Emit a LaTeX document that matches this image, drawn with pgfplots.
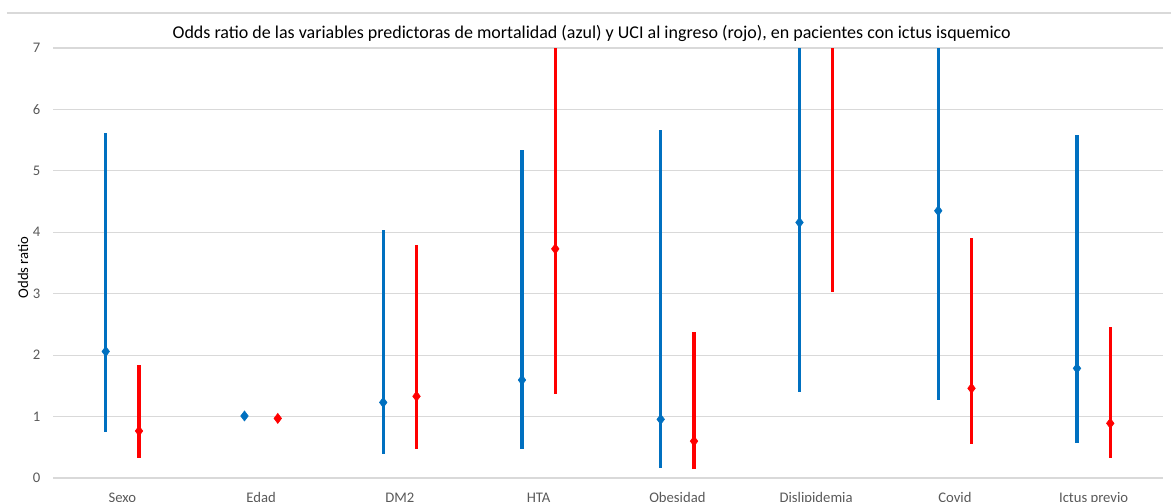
\documentclass[border=0pt]{standalone}
\usepackage{fontspec}
\setmainfont{Carlito}
\usepackage{pgfplots}
\pgfplotsset{compat=1.18}
\definecolor{myblue}{HTML}{0070C0}
\definecolor{myred}{HTML}{FF0000}
\definecolor{gridc}{HTML}{D9D9D9}
\definecolor{tickc}{HTML}{595959}
\begin{document}
\begin{tikzpicture}
\begin{axis}[
  at={(0pt,0pt)}, anchor=south west,
  scale only axis,
  width=832.5pt, height=322.5pt,
  xmin=-0.5, xmax=7.5, ymin=0, ymax=7,
  xtick={0,...,7},
  xticklabels={Sexo,Edad,DM2,HTA,Obesidad,Dislipidemia,Covid,Ictus previo},
  ytick={0,...,7},
  axis line style={draw=none},
  major tick length=0pt,
  ymajorgrids, grid style={gridc, line width=0.9pt},
  tick label style={font=\fontsize{11}{13}\selectfont, text=tickc},
  /pgf/number format/assume math mode=true,
  xticklabel style={yshift=-7.5pt},
  yticklabel style={xshift=-6pt},
  clip=true,
]
\addplot[only marks, mark=diamond*, mark size=3.8pt, color=myblue,
  error bars/.cd, y dir=both, y explicit, error bar style={line width=2.4pt, color=myblue}, error mark=none]
  coordinates {
  (-0.12,2.06) += (0,3.56) -= (0,1.31)
  (0.88,1.01) += (0,0) -= (0,0)
  (1.88,1.23) += (0,2.80) -= (0,0.845)
  (2.88,1.595) += (0,3.745) -= (0,1.115)
  (3.88,0.955) += (0,4.705) -= (0,0.795)
  (4.88,4.16) += (0,6.0) -= (0,2.765)
  (5.88,4.35) += (0,6.0) -= (0,3.08)
  (6.88,1.785) += (0,3.795) -= (0,1.22)
  };
\addplot[only marks, mark=diamond*, mark size=3.8pt, color=myred,
  error bars/.cd, y dir=both, y explicit, error bar style={line width=2.4pt, color=myred}, error mark=none]
  coordinates {
  (0.12,0.765) += (0,1.075) -= (0,0.445)
  (1.12,0.97) += (0,0) -= (0,0)
  (2.12,1.33) += (0,2.47) -= (0,0.85)
  (3.12,3.73) += (0,6.0) -= (0,2.37)
  (4.12,0.60) += (0,1.77) -= (0,0.45)
  (5.12,8.0) += (0,4.0) -= (0,4.97)
  (6.12,1.46) += (0,2.44) -= (0,0.91)
  (7.12,0.89) += (0,1.57) -= (0,0.57)
  };
\end{axis}
\draw[gridc, line width=0.9pt] (-34.5pt,348.75pt) -- (838.5pt,348.75pt);
\node[font=\fontsize{13.5}{15}\selectfont, anchor=base] at (404pt,330pt) {Odds ratio de las variables predictoras de mortalidad (azul) y UCI al ingreso (rojo), en pacientes con ictus isquemico};
\node[font=\fontsize{11}{13}\selectfont, rotate=90] at (-22.5pt,158pt) {Odds ratio};
\pgfresetboundingbox
\path[use as bounding box] (-39.75pt,-17.25pt) rectangle (838.5pt,358.5pt);
\end{tikzpicture}
\end{document}
